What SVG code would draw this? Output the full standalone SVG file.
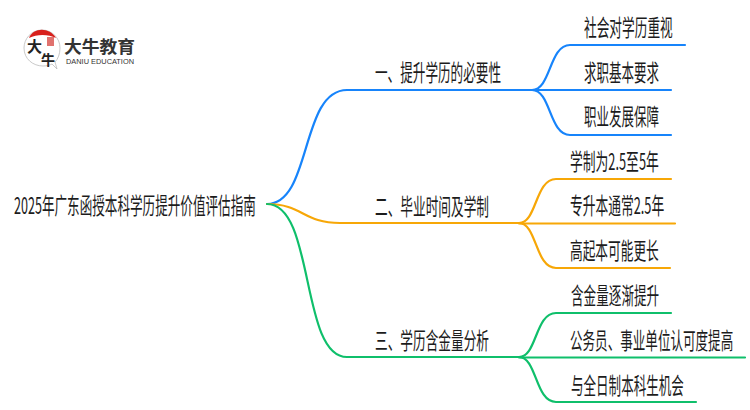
<svg xmlns="http://www.w3.org/2000/svg" width="750" height="410" viewBox="0 0 750 410">
<style>
text{font-family:"Noto Sans CJK SC","Liberation Sans",sans-serif;fill:#1c1c1c}
.t{font-size:23px;font-weight:400}
.c path{fill:none;stroke-width:2.2;stroke-linecap:round}
.b path{stroke:#1784fb}.o path{stroke:#f7a707}.g path{stroke:#0fbf6b}
</style>
<rect width="750" height="410" fill="#fff"/>
<g id="logo">
<path d="M42,30C31,30 24,39 24,48C24,59 33,66 43,66C47,66 50,65 52,64L57,69L55,62C58,59 60,54 60,48C60,38 52,30 42,30Z" fill="#fff" stroke="#bbb" stroke-width="0.8"/>
<path d="M29,38C33,27 50,27 56,38C48,34 37,34 29,38Z" fill="#d8201c"/>
<rect x="47" y="37" width="7" height="9" fill="#e0726e"/>
<text x="27" y="52" style="font-size:15px;font-weight:700;fill:#222">大</text>
<text x="41" y="65" style="font-size:14px;font-weight:700;fill:#222">牛</text>
<text x="64" y="53" textLength="71" lengthAdjust="spacingAndGlyphs" style="font-size:17px;font-weight:700;fill:#333">大牛教育</text>
<text x="66" y="64" textLength="68" lengthAdjust="spacingAndGlyphs" style="font-family:'Liberation Sans',sans-serif;font-size:7px;fill:#333">DANIU EDUCATION</text>
</g>
<g id="connectors" class="c">
<g class="b">
<path d="M267,204C312,204 300,90 347,90H532"/>
<path d="M532,90C551,90 549,45 570,45H685"/>
<path d="M532,90H671"/>
<path d="M532,90C551,90 549,135 570,135H671"/>
</g>
<g class="o">
<path d="M267,204C303,204 303,223 340,223H519"/>
<path d="M519,223C537,223 535,179 556,179H671"/>
<path d="M519,223.500H675"/>
<path d="M519,223C537,223 535,268 556,268H670"/>
</g>
<g class="g">
<path d="M267,204C315,204 300,357 347,357H519"/>
<path d="M519,357C537,357 535,313 556,313H671"/>
<path d="M519,357.500H745"/>
<path d="M519,357C537,357 535,402 556,402H696"/>
</g>
</g>
<g id="root"><text class="t" transform="translate(14,214) scale(.6,1)" textLength="403" lengthAdjust="spacingAndGlyphs">2025年广东函授本科学历提升价值评估指南</text></g>
<g id="n1"><text class="t" transform="translate(375,81) scale(.6,1)" textLength="210" lengthAdjust="spacingAndGlyphs">一、提升学历的必要性</text></g>
<g id="n2"><text class="t" transform="translate(375,215) scale(.6,1)" textLength="190" lengthAdjust="spacingAndGlyphs">二、毕业时间及学制</text></g>
<g id="n3"><text class="t" transform="translate(375,349) scale(.6,1)" textLength="190" lengthAdjust="spacingAndGlyphs">三、学历含金量分析</text></g>
<g id="n11"><text class="t" transform="translate(584,36) scale(.6,1)" textLength="148" lengthAdjust="spacingAndGlyphs">社会对学历重视</text></g>
<g id="n12"><text class="t" transform="translate(584,81) scale(.6,1)" textLength="125" lengthAdjust="spacingAndGlyphs">求职基本要求</text></g>
<g id="n13"><text class="t" transform="translate(584,125) scale(.6,1)" textLength="125" lengthAdjust="spacingAndGlyphs">职业发展保障</text></g>
<g id="n21"><text class="t" transform="translate(570,170) scale(.6,1)" textLength="148" lengthAdjust="spacingAndGlyphs">学制为2.5至5年</text></g>
<g id="n22"><text class="t" transform="translate(570,214) scale(.6,1)" textLength="157" lengthAdjust="spacingAndGlyphs">专升本通常2.5年</text></g>
<g id="n23"><text class="t" transform="translate(570,259) scale(.6,1)" textLength="148" lengthAdjust="spacingAndGlyphs">高起本可能更长</text></g>
<g id="n31"><text class="t" transform="translate(571,304) scale(.6,1)" textLength="147" lengthAdjust="spacingAndGlyphs">含金量逐渐提升</text></g>
<g id="n32"><text class="t" transform="translate(570,349) scale(.6,1)" textLength="272" lengthAdjust="spacingAndGlyphs">公务员、事业单位认可度提高</text></g>
<g id="n33"><text class="t" transform="translate(571,394) scale(.6,1)" textLength="188" lengthAdjust="spacingAndGlyphs">与全日制本科生机会</text></g>
</svg>
